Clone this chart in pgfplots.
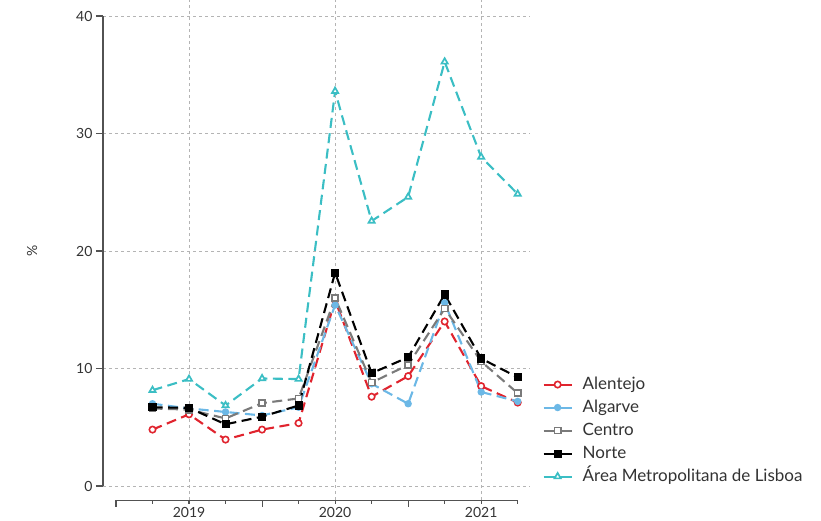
\documentclass[border=0pt]{standalone}
\usepackage{fontspec}
\setmainfont{Lato}
\usepackage{pgfplots}
\pgfplotsset{compat=1.18}

\definecolor{cred}{HTML}{E0242E}
\definecolor{cblue}{HTML}{6CB8E6}
\definecolor{cgray}{HTML}{7A7A7A}
\definecolor{cteal}{HTML}{3BBEC4}
\definecolor{txt}{HTML}{333333}
\definecolor{gridc}{HTML}{B4B4B4}

\begin{document}
\begin{tikzpicture}
\begin{axis}[
  name=ax, scale only axis, width=427pt, height=470pt,
  xmin=-0.356, xmax=11.337, ymin=0, ymax=40,
  axis x line=none, axis y line*=left,
  y axis line style={draw=txt!85, line width=1.1pt, -},
  ytick={0,10,20,30,40},
  tick align=outside, major tick length=7pt,
  ytick style={draw=txt!85, line width=1.1pt},
  yticklabel style={font=\fontsize{14}{16}\selectfont, text=txt},
  /pgf/number format/assume math mode=true,
  ymajorgrids,
  major grid style={gridc, line width=0.7pt, dash pattern=on 3pt off 3pt},
  clip=false,
  legend cell align=left,
  legend style={at={(rel axis cs:1.022,0.245)}, anchor=north west,
    draw=none, fill=none, font=\fontsize{17}{20}\selectfont, text=txt,
    row sep=0pt, nodes={text height=13pt, text depth=4pt, inner ysep=3pt}},
  legend image code/.code={
    \draw[mark repeat=2, mark phase=2, #1]
      plot coordinates {(0pt,0pt) (14pt,0pt) (28pt,0pt)};
    \path (36pt,0pt);},
  legend image post style={solid},
  every axis plot/.append style={line width=2.1pt, dash pattern=on 10pt off 5.5pt},
]
\addplot[cred, mark=*, mark size=3.2pt, mark options={solid, fill=white, line width=1.6pt}]
  coordinates {(1,4.8) (2,6.1) (3,3.95) (4,4.8) (5,5.35) (6,15.8) (7,7.6) (8,9.35) (9,14.0) (10,8.5) (11,7.1)};
\addlegendentry{Alentejo}
\addplot[cblue, mark=*, mark size=2.6pt, mark options={solid}]
  coordinates {(1,7.0) (2,6.6) (3,6.3) (4,6.0) (5,6.7) (6,15.4) (7,8.7) (8,7.0) (9,15.6) (10,8.0) (11,7.2)};
\addlegendentry{Algarve}
\addplot[cgray, mark=square*, mark size=3.1pt, mark options={solid, fill=white, line width=1.6pt}]
  coordinates {(1,6.6) (2,6.5) (3,5.75) (4,7.05) (5,7.45) (6,16.0) (7,8.8) (8,10.3) (9,15.1) (10,10.6) (11,7.9)};
\addlegendentry{Centro}
\addplot[black, mark=square*, mark size=3.0pt, mark options={solid}]
  coordinates {(1,6.7) (2,6.65) (3,5.25) (4,5.9) (5,6.85) (6,18.15) (7,9.6) (8,10.95) (9,16.3) (10,10.85) (11,9.25)};
\addlegendentry{Norte}
\addplot[cteal, mark=triangle*, mark size=3.6pt, mark options={solid, fill=white, line width=1.7pt}]
  coordinates {(1,8.15) (2,9.1) (3,6.85) (4,9.15) (5,9.1) (6,33.6) (7,22.55) (8,24.6) (9,36.1) (10,28.0) (11,24.85)};
\addlegendentry{Área Metropolitana de Lisboa}

% vertical grid at the year centres
\pgfplotsinvokeforeach{2,6,10}{
  \draw[gridc, line width=0.7pt, dash pattern=on 3pt off 3pt] (axis cs:#1,-1.2) -- (axis cs:#1,41.4);}
% detached time axis
\draw[txt!85, line width=1.1pt] (axis cs:0,-1.2) -- (axis cs:11,-1.2);
\pgfplotsinvokeforeach{0,4,8}{
  \draw[txt!85, line width=1.1pt] (axis cs:#1,-1.2) -- ++(0pt,-7pt);}
\pgfplotsinvokeforeach{1,2,3,5,6,7,9,10,11}{
  \draw[txt!85, line width=1.1pt] (axis cs:#1,-1.2) -- ++(0pt,-4pt);}
\node[text=txt, font=\fontsize{14}{16}\selectfont] at (axis cs:2,-2.25) {2019};
\node[text=txt, font=\fontsize{14}{16}\selectfont] at (axis cs:6,-2.25) {2020};
\node[text=txt, font=\fontsize{14}{16}\selectfont] at (axis cs:10,-2.25) {2021};
\node[text=txt, font=\fontsize{14}{16}\selectfont, rotate=90] at (axis cs:-2.3,20) {\%};
\end{axis}
\pgfresetboundingbox
\path (ax.south west) ++(-103pt,-35pt) rectangle ++(821pt,521pt);
\end{tikzpicture}
\end{document}
